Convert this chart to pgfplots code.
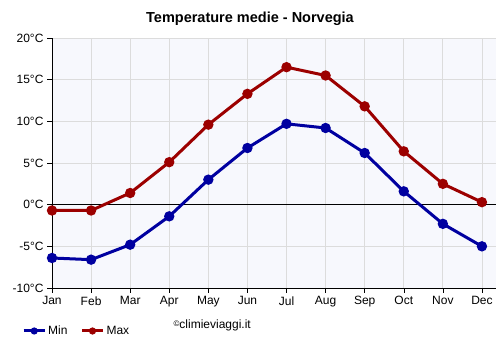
\documentclass[border=0pt]{standalone}
\usepackage{pgfplots}
\pgfplotsset{compat=1.18}
\usepackage{fontspec}
\setmainfont{Liberation Sans}
\definecolor{cmin}{HTML}{0000A0}
\definecolor{cmax}{HTML}{9C0000}
\definecolor{bgp}{HTML}{F7F8FD}
\definecolor{gridc}{HTML}{DCDCDC}
\begin{document}
\begin{tikzpicture}[x=1pt,y=1pt]
\useasboundingbox (0,0) rectangle (500,350);
\fill[white] (0,0) rectangle (500,350);
\begin{axis}[
  at={(52pt,62pt)}, anchor=south west,
  scale only axis, width=444pt, height=250pt,
  xmin=0, xmax=11.36, ymin=-10, ymax=20,
  axis lines*=left, axis line style={black, thin, -},
  axis background/.style={fill=bgp},
  xtick={0,...,11},
  xticklabels={Jan,Feb,Mar,Apr,May,Jun,Jul,Aug,Sep,Oct,Nov,Dec},
  ytick={-10,-5,0,5,10,15,20},
  yticklabel={\pgfmathprintnumber{\tick}°C},
  /pgf/number format/assume math mode=true,
  ticklabel style={font=\fontsize{12}{14}\selectfont, black},
  tick style={black, thin},
  tick align=outside, major tick length=5pt,
  xtick pos=bottom, ytick pos=left,
  grid=major, major grid style={gridc, line width=0.8pt},
  clip=false,
  legend style={at={(-33pt,-43pt)}, anchor=west, draw=none, fill=none,
    font=\fontsize{12}{14}\selectfont, legend columns=2,
    /tikz/every even column/.append style={column sep=11pt}},
  legend cell align=left,
  legend image code/.code={\draw[#1, line width=3pt] (0pt,0pt) -- (21pt,0pt);
    \fill[#1] (10.5pt,0pt) circle (2pt);},
]
\draw[black, line width=0.8pt] (axis cs:0,0) -- (axis cs:11.36,0);
\addplot[cmin, line width=3pt, mark=*, mark size=3.6pt, mark options={solid}] coordinates {
(0,-6.4) (1,-6.6) (2,-4.8) (3,-1.4) (4,3.0) (5,6.8) (6,9.7) (7,9.2) (8,6.2) (9,1.6) (10,-2.3) (11,-5.0)};
\addlegendentry{Min}
\addplot[cmax, line width=3pt, mark=*, mark size=3.6pt, mark options={solid}] coordinates {
(0,-0.7) (1,-0.7) (2,1.4) (3,5.1) (4,9.6) (5,13.3) (6,16.5) (7,15.5) (8,11.8) (9,6.4) (10,2.5) (11,0.3)};
\addlegendentry{Max}
\end{axis}
\node[font=\bfseries\fontsize{14.5}{17}\selectfont] at (250,331) {Temperature medie - Norvegia};
\node[font=\fontsize{12}{14}\selectfont, anchor=west] at (170,25) {\raisebox{2pt}{\fontsize{8}{9}\selectfont©}climieviaggi.it};
\end{tikzpicture}
\end{document}
